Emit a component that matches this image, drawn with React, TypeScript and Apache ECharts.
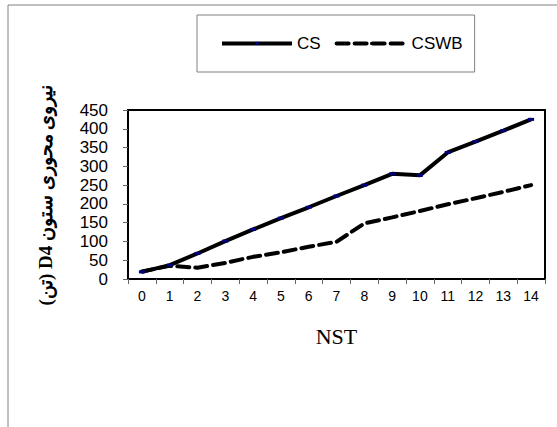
import React, { useEffect, useRef } from "react";
import * as echarts from "echarts";

const categories = ["0","1","2","3","4","5","6","7","8","9","10","11","12","13","14"];
const csValues = [19, 37, 68, 101, 132, 162, 191, 221, 250, 280, 276, 337, 366, 395, 425];
const cswbValues = [20, 35, 30, 43, 59, 71, 86, 99, 148, 164, 181, 199, 215, 232, 250];
const yTitle = "\u202Bنیروی محوری ستون D4 (تن)\u202C";
const xTitle = "NST";

export default function App() {
  const ref = useRef<HTMLDivElement>(null);
  useEffect(() => {
    if (!ref.current) return;
    const chart = echarts.init(ref.current, null, { renderer: "svg" });
    chart.setOption({
      animation: false,
      backgroundColor: "#ffffff",
      grid: {
        left: 128, top: 110, right: 12, bottom: 148,
        show: true, borderColor: "#000", borderWidth: 2, backgroundColor: "transparent",
      },
      legend: {
        left: 197, top: 15,
        padding: [20, 12, 20, 23],
        borderColor: "#808080", borderWidth: 1,
        itemWidth: 70, itemHeight: 4, itemGap: 14,
        lineStyle: { width: 4 },
        textStyle: { fontFamily: "Liberation Sans Narrow, Liberation Sans, sans-serif", fontSize: 17, color: "#000" },
        data: ["CS", "CSWB"],
      },
      graphic: [
        {
          type: "rect", silent: true,
          shape: { x: 8, y: 5, width: 560, height: 430 },
          style: { fill: "none", stroke: "#808080", lineWidth: 1 },
        },
        {
          type: "text", x: 45, y: 195, rotation: Math.PI / 2,
          style: {
            text: yTitle, fontFamily: "Liberation Serif, serif", fontWeight: "bold", fontSize: 19,
            fill: "#000", align: "center", verticalAlign: "middle",
          },
        },
      ],
      xAxis: {
        type: "category",
        data: categories,
        boundaryGap: true,
        name: xTitle,
        nameLocation: "middle",
        nameGap: 46,
        nameTextStyle: { fontFamily: "Liberation Serif, serif", fontSize: 22, color: "#000" },
        axisLine: { lineStyle: { color: "#000", width: 2 } },
        axisTick: { show: true, alignWithLabel: false, length: 5, lineStyle: { color: "#666", width: 1 } },
        axisLabel: { fontFamily: "Liberation Sans, Arial, sans-serif", fontSize: 14, color: "#000", margin: 10, interval: 0 },
        splitLine: { show: false },
      },
      yAxis: {
        type: "value",
        min: 0, max: 450, interval: 50,
        axisLine: { show: true, lineStyle: { color: "#000", width: 2 } },
        axisTick: { show: true, length: 5, lineStyle: { color: "#666", width: 1 } },
        axisLabel: {
          fontFamily: "Liberation Sans, Arial, sans-serif", fontSize: 17, lineHeight: 17, color: "#000", margin: 20,
          hideOverlap: false,
        },
        splitLine: { show: false },
      },
      series: [
        {
          name: "CS", type: "line", data: csValues,
          lineStyle: { color: "#000", width: 4 },
          itemStyle: { color: "#000080" },
          symbol: "rect", symbolSize: [6, 3], showSymbol: true,
        },
        {
          name: "CSWB", type: "line", data: cswbValues,
          lineStyle: { color: "#000", width: 4, type: [12, 6], cap: "round" },
          itemStyle: { color: "#000" },
          symbol: "none",
        },
      ],
    });
    return () => chart.dispose();
  }, []);
  return <div ref={ref} style={{ width: 557, height: 427, position: "absolute", left: 0, top: 0 }} />;
}
